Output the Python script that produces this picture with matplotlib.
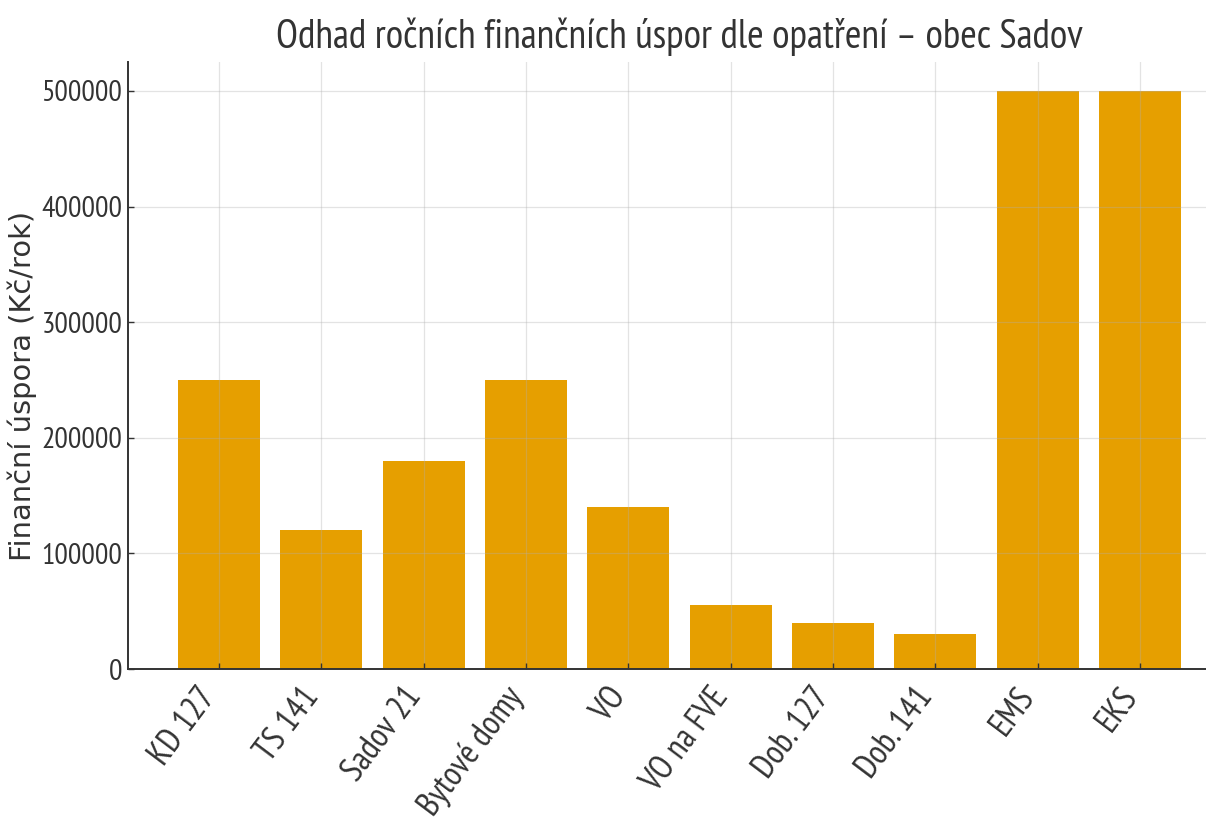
import matplotlib
matplotlib.use("Agg")
import matplotlib.pyplot as plt
import matplotlib.transforms as mtransforms

categories = ["KD 127", "TS 141", "Sadov 21", "Bytové domy", "VO", "VO na FVE",
              "Dob. 127", "Dob. 141", "EMS", "EKS"]
savings = [250000, 120000, 180000, 250000, 140000, 55000, 40000, 30000, 500000, 500000]
yticks = [0, 100000, 200000, 300000, 400000, 500000]

title = "Odhad ročních finančních úspor dle opatření – obec Sadov"
ylabel = "Finanční úspora (Kč/rok)"

narrow = ["PT Sans Narrow", "DejaVu Sans"]
text_col = "#333333"

fig = plt.figure(figsize=(12.06, 8.30), dpi=100)
ax = fig.add_axes([128/1206, (830-669)/830, (1231-128)/1206, (669-62)/830])
x = list(range(len(categories)))
ax.bar(x, savings, width=0.8, color="#E69F00", zorder=1)
ax.set_xticks(x)
ax.set_xticklabels(categories, rotation=53, ha="right", va="center",
                   rotation_mode="anchor", fontsize=24.5, family=narrow, color=text_col)
ax.tick_params(axis="both", direction="in", colors=text_col, length=4, width=1)
ax.tick_params(axis="x", pad=16)
ax.tick_params(axis="y", pad=4)
offset = mtransforms.ScaledTranslation(-9/100, 0, fig.dpi_scale_trans)
for lbl in ax.get_xticklabels():
    lbl.set_transform(lbl.get_transform() + offset)
ax.set_yticks(yticks)
ax.set_yticklabels([str(v) for v in yticks], fontsize=21.5, family=narrow, color=text_col)
ax.set_ylabel(ylabel, fontsize=20.8, color=text_col, family="DejaVu Sans")
ax.yaxis.set_label_coords(-0.0825, 0.466)
ax.set_title(title, fontsize=28.8, color=text_col, family=narrow, pad=10)
ax.grid(True, color="#b0b0b0", alpha=0.35, linewidth=0.9, zorder=3)
ax.set_axisbelow(False)
for s in ["top", "right"]:
    ax.spines[s].set_visible(False)
for s in ["left", "bottom"]:
    ax.spines[s].set_color(text_col)
    ax.spines[s].set_linewidth(1.4)
    ax.spines[s].set_zorder(4)

fig.savefig("out.png", dpi=100)
